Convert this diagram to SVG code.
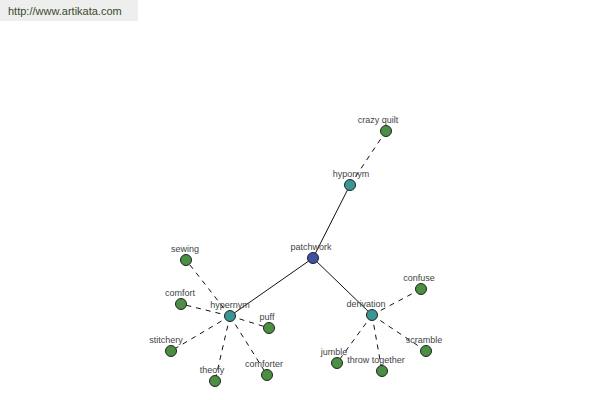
<svg xmlns="http://www.w3.org/2000/svg" width="600" height="400" viewBox="0 0 600 400">
<style>
.lbl{font-family:"Liberation Sans",Arial,sans-serif;font-size:9px;fill:#444;text-anchor:middle}
.n{stroke:#222;stroke-width:1}
.root{fill:#4050a2}
.hub{fill:#3a9595}
.leaf{fill:#4a8f42}
.solid{stroke:#111;stroke-width:1;fill:none}
.dash{stroke:#111;stroke-width:1;fill:none;stroke-dasharray:5 5}
</style>
<rect x="0" y="0" width="138" height="21" fill="#eeeeee"/>
<text x="8" y="15" font-family="'Liberation Sans',Arial,sans-serif" font-size="11" fill="#3a4a2c">http://www.artikata.com</text>
<g id="connectors">
<line class="solid" x1="313" y1="258" x2="350" y2="185"/>
<line class="solid" x1="313" y1="258" x2="230" y2="316"/>
<line class="solid" x1="313" y1="258" x2="372" y2="315"/>
<line class="dash" x1="350" y1="185" x2="386" y2="131"/>
<line class="dash" x1="230" y1="316" x2="186" y2="260"/>
<line class="dash" x1="230" y1="316" x2="181" y2="304"/>
<line class="dash" x1="230" y1="316" x2="269" y2="328"/>
<line class="dash" x1="230" y1="316" x2="171" y2="351"/>
<line class="dash" x1="230" y1="316" x2="215" y2="381"/>
<line class="dash" x1="230" y1="316" x2="267" y2="375"/>
<line class="dash" x1="372" y1="315" x2="421" y2="289"/>
<line class="dash" x1="372" y1="315" x2="426" y2="351"/>
<line class="dash" x1="372" y1="315" x2="337" y2="363"/>
<line class="dash" x1="372" y1="315" x2="382" y2="371"/>
</g>
<g id="patchwork"><circle class="n root" cx="313" cy="258" r="5.5"/><text class="lbl" x="311" y="250">patchwork</text></g>
<g id="hyponym"><circle class="n hub" cx="350" cy="185" r="5.5"/><text class="lbl" x="351" y="177">hyponym</text></g>
<g id="crazy-quilt"><circle class="n leaf" cx="386" cy="131" r="5.5"/><text class="lbl" x="378" y="123">crazy quilt</text></g>
<g id="hypernym"><circle class="n hub" cx="230" cy="316" r="5.5"/><text class="lbl" x="230" y="308">hypernym</text></g>
<g id="sewing"><circle class="n leaf" cx="186" cy="260" r="5.5"/><text class="lbl" x="185" y="252">sewing</text></g>
<g id="comfort"><circle class="n leaf" cx="181" cy="304" r="5.5"/><text class="lbl" x="180" y="296">comfort</text></g>
<g id="puff"><circle class="n leaf" cx="269" cy="328" r="5.5"/><text class="lbl" x="267" y="320">puff</text></g>
<g id="stitchery"><circle class="n leaf" cx="171" cy="351" r="5.5"/><text class="lbl" x="166" y="343">stitchery</text></g>
<g id="theofy"><circle class="n leaf" cx="215" cy="381" r="5.5"/><text class="lbl" x="212" y="373">theofy</text></g>
<g id="comforter"><circle class="n leaf" cx="267" cy="375" r="5.5"/><text class="lbl" x="264" y="367">comforter</text></g>
<g id="derivation"><circle class="n hub" cx="372" cy="315" r="5.5"/><text class="lbl" x="366" y="307">derivation</text></g>
<g id="confuse"><circle class="n leaf" cx="421" cy="289" r="5.5"/><text class="lbl" x="419" y="281">confuse</text></g>
<g id="scramble"><circle class="n leaf" cx="426" cy="351" r="5.5"/><text class="lbl" x="424" y="343">scramble</text></g>
<g id="jumble"><circle class="n leaf" cx="337" cy="363" r="5.5"/><text class="lbl" x="334" y="355">jumble</text></g>
<g id="throw-together"><circle class="n leaf" cx="382" cy="371" r="5.5"/><text class="lbl" x="376" y="363">throw together</text></g>
</svg>
